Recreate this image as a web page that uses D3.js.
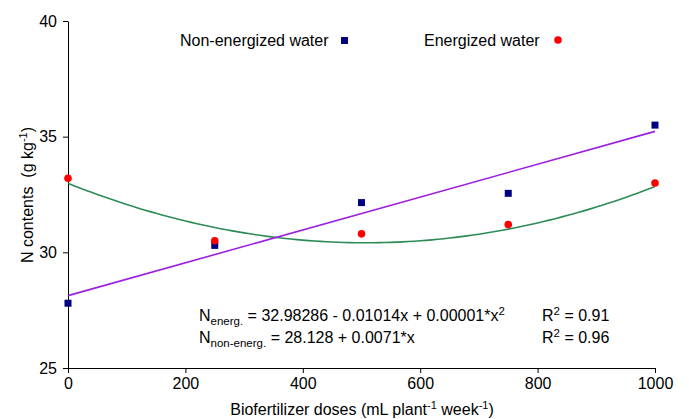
<!DOCTYPE html>
<html>
<head>
<meta charset="utf-8">
<script src="https://cdn.jsdelivr.net/npm/d3@7/dist/d3.min.js"></script>
<style>
  body { margin: 0; background: #fff; }
  svg text { font-family: "Liberation Sans", Arial, sans-serif; fill: #000; }
</style>
</head>
<body>
<div id="chart"></div>
<script>
var doses = [0, 250, 500, 750, 1000];
var nonEnergized = [27.8, 30.3, 32.15, 32.55, 35.5];
var energized = [33.2, 30.5, 30.8, 31.2, 33.0];
var quadCoef = [32.98286, -0.01014, 0.00001];
var linCoef = [28.128, 0.0071];
var xTicks = [0, 200, 400, 600, 800, 1000];
var yTicks = [25, 30, 35, 40];

var width = 689, height = 419;
var mLeft = 68, mRight = 655, mTop = 21, mBottom = 368;
var fontSize = "16px";

var x = d3.scaleLinear([0, 1000], [mLeft, mRight]);
var y = d3.scaleLinear([25, 40], [mBottom, mTop]);

var svg = d3.select("#chart").append("svg")
    .attr("width", width)
    .attr("height", height);

svg.append("g")
    .attr("transform", `translate(0,${mBottom})`)
    .call(d3.axisBottom(x).tickValues(xTicks).tickFormat(d3.format("d")).tickSize(5).tickPadding(5).tickSizeOuter(0))
    .call(g => g.select(".domain").attr("stroke", "#000"))
    .call(g => g.selectAll("text").attr("font-size", fontSize).attr("font-family", "Liberation Sans, Arial, sans-serif"));

svg.append("g")
    .attr("transform", `translate(${mLeft},0)`)
    .call(d3.axisLeft(y).tickValues(yTicks).tickFormat(d3.format("d")).tickSize(5).tickPadding(6).tickSizeOuter(0))
    .call(g => g.select(".domain").attr("stroke", "#000"))
    .call(g => g.selectAll("text").attr("font-size", fontSize).attr("font-family", "Liberation Sans, Arial, sans-serif"));

// trend lines
var grid = d3.range(0, 1001, 10);
var line = d3.line().x(d => x(d[0])).y(d => y(d[1]));

svg.append("path")
    .datum(grid.map(d => [d, quadCoef[0] + quadCoef[1] * d + quadCoef[2] * d * d]))
    .attr("d", line)
    .attr("fill", "none")
    .attr("stroke", "#2e8b57")
    .attr("stroke-width", 1.6);

svg.append("path")
    .datum([0, 1000].map(d => [d, linCoef[0] + linCoef[1] * d]))
    .attr("d", line)
    .attr("fill", "none")
    .attr("stroke", "#9c1fe0")
    .attr("stroke-width", 1.6);

// points
var sq = 7;
svg.append("g").selectAll("rect")
    .data(doses)
    .enter()
    .append("rect")
        .attr("x", d => x(d) - sq / 2)
        .attr("y", (d, i) => y(nonEnergized[i]) - sq / 2)
        .attr("width", sq)
        .attr("height", sq)
        .attr("fill", "#000080");

svg.append("g").selectAll("circle")
    .data(doses)
    .enter()
    .append("circle")
        .attr("cx", d => x(d))
        .attr("cy", (d, i) => y(energized[i]))
        .attr("r", 3.8)
        .attr("fill", "#ff0000");

// legend
svg.append("text").attr("x", 180).attr("y", 46).attr("font-size", fontSize).text("Non-energized water");
svg.append("rect").attr("x", 341).attr("y", 37).attr("width", sq).attr("height", sq).attr("fill", "#000080");
svg.append("text").attr("x", 424).attr("y", 46).attr("font-size", fontSize).text("Energized water");
svg.append("circle").attr("cx", 558).attr("cy", 40).attr("r", 3.8).attr("fill", "#ff0000");

// equations
var eq1 = svg.append("text").attr("x", 199).attr("y", 321).attr("font-size", fontSize);
eq1.append("tspan").text("N");
eq1.append("tspan").attr("font-size", "11.5px").attr("dy", 4).text("energ.");
eq1.append("tspan").attr("dy", -4).text(" = 32.98286 - 0.01014x + 0.00001*x");
eq1.append("tspan").attr("font-size", "11.5px").attr("dy", -6).text("2");

var eq2 = svg.append("text").attr("x", 199).attr("y", 343).attr("font-size", fontSize);
eq2.append("tspan").text("N");
eq2.append("tspan").attr("font-size", "11.5px").attr("dy", 4).text("non-energ.");
eq2.append("tspan").attr("dy", -4).text(" = 28.128 + 0.0071*x");

[[321, "0.91"], [343, "0.96"]].forEach(function (r) {
    var t = svg.append("text").attr("x", 542).attr("y", r[0]).attr("font-size", fontSize);
    t.append("tspan").text("R");
    t.append("tspan").attr("font-size", "11.5px").attr("dy", -6).text("2");
    t.append("tspan").attr("dy", 6).text(" = " + r[1]);
});

// axis titles
var xt = svg.append("text").attr("x", 362).attr("y", 415)
    .attr("text-anchor", "middle").attr("font-size", fontSize);
xt.append("tspan").text("Biofertilizer doses (mL plant");
xt.append("tspan").attr("font-size", "11px").attr("dy", -6).text("-1");
xt.append("tspan").attr("dy", 6).text(" week");
xt.append("tspan").attr("font-size", "11px").attr("dy", -6).text("-1");
xt.append("tspan").attr("dy", 6).text(")");

var yt = svg.append("text")
    .attr("transform", `translate(33,195) rotate(-90)`)
    .attr("text-anchor", "middle").attr("font-size", fontSize);
yt.append("tspan").text("N contents\u00a0\u00a0(g kg");
yt.append("tspan").attr("font-size", "11px").attr("dy", -6).text("-1");
yt.append("tspan").attr("dy", 6).text(")");
</script>
</body>
</html>
